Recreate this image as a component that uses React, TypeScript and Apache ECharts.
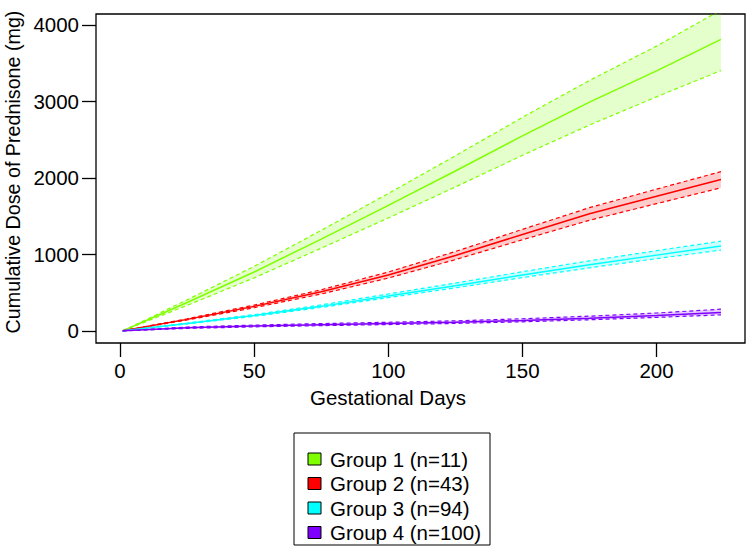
import React, { useEffect, useRef } from "react";
import * as echarts from "echarts";

const DAYS = [1, 25, 50, 75, 100, 125, 150, 175, 200, 224];

const GROUP_NAMES = ["Group 1 (n=11)", "Group 2 (n=43)", "Group 3 (n=94)", "Group 4 (n=100)"];
const GROUP_COLORS = ["#7FFF00", "#FF0000", "#00FFFF", "#7F00FF"];
const BAND_COLORS = ["rgba(127,255,0,0.2)", "rgba(255,0,0,0.2)", "rgba(0,255,255,0.2)", "rgba(127,0,255,0.2)"];

const G1_MEAN = [0, 370, 770, 1200, 1640, 2090, 2550, 2990, 3400, 3812];
const G1_UPPER = [0, 405, 843, 1314, 1796, 2289, 2792, 3274, 3723, 4195];
const G1_LOWER = [0, 333, 693, 1080, 1476, 1881, 2295, 2691, 3060, 3403];

const G2_MEAN = [0, 150, 320, 510, 730, 985, 1260, 1530, 1760, 1978];
const G2_UPPER = [0, 158, 337, 537, 769, 1037, 1327, 1611, 1853, 2082];
const G2_LOWER = [0, 142, 302, 482, 690, 931, 1191, 1446, 1663, 1870];

const G3_MEAN = [0, 95, 200, 320, 455, 590, 730, 865, 990, 1108];
const G3_UPPER = [0, 101, 212, 339, 482, 625, 773, 916, 1048, 1173];
const G3_LOWER = [0, 90, 190, 305, 434, 562, 696, 824, 944, 1056];

const G4_MEAN = [0, 40, 62, 80, 95, 112, 135, 165, 200, 240];
const G4_UPPER = [0, 50, 75, 95, 112, 131, 158, 192, 233, 283];
const G4_LOWER = [0, 32, 52, 68, 82, 97, 118, 145, 176, 209];

const X_TICKS = [0, 50, 100, 150, 200];
const Y_TICKS = [0, 1000, 2000, 3000, 4000];

const X_TITLE = "Gestational Days";
const Y_TITLE = "Cumulative Dose of Prednisone (mg)";

const FONT = "'Liberation Sans', Arial, sans-serif";

export default function App() {
  const ref = useRef<HTMLDivElement>(null);

  useEffect(() => {
    if (!ref.current) return;
    const chart = echarts.init(ref.current, undefined, { renderer: "svg" });

    const groups = [
      { mean: G1_MEAN, upper: G1_UPPER, lower: G1_LOWER },
      { mean: G2_MEAN, upper: G2_UPPER, lower: G2_LOWER },
      { mean: G3_MEAN, upper: G3_UPPER, lower: G3_LOWER },
      { mean: G4_MEAN, upper: G4_UPPER, lower: G4_LOWER },
    ];

    const series: any[] = [];
    groups.forEach((g, i) => {
      series.push({
        type: "custom",
        name: "band" + i,
        data: DAYS.map((d, j) => [d, g.lower[j], g.upper[j]]),
        encode: { x: 0, y: [1, 2] },
        clip: true,
        silent: true,
        z: 1,
        renderItem: (params: any, api: any) => {
          if (params.dataIndex !== 0) return null;
          const top = DAYS.map((d, j) => api.coord([d, g.upper[j]]));
          const bot = DAYS.map((d, j) => api.coord([d, g.lower[j]])).reverse();
          return {
            type: "polygon",
            shape: { points: top.concat(bot) },
            style: { fill: BAND_COLORS[i], stroke: "none" },
          };
        },
      });
    });
    groups.forEach((g, i) => {
      [g.upper, g.lower].forEach((arr, k) => {
        series.push({
          type: "line",
          name: (k === 0 ? "upper" : "lower") + i,
          data: DAYS.map((d, j) => [d, arr[j]]),
          symbol: "none",
          lineStyle: { color: GROUP_COLORS[i], width: 1.2, type: [4, 3] },
          silent: true,
          z: 2,
        });
      });
      series.push({
        type: "line",
        name: GROUP_NAMES[i],
        data: DAYS.map((d, j) => [d, g.mean[j]]),
        symbol: "none",
        lineStyle: { color: GROUP_COLORS[i], width: 1.5 },
        silent: true,
        z: 3,
      });
    });

    const legendLeft = 294;
    const legendTop = 433;
    const rowY0 = 459;
    const rowStep = 24.5;
    const legendEls: any[] = [
      {
        type: "rect",
        shape: { x: legendLeft, y: legendTop, width: 196, height: 112 },
        style: { fill: "#fff", stroke: "#000", lineWidth: 1 },
      },
    ];
    GROUP_NAMES.forEach((name, i) => {
      const cy = rowY0 + i * rowStep;
      legendEls.push({
        type: "rect",
        shape: { x: 308, y: cy - 6, width: 13, height: 12 },
        style: { fill: GROUP_COLORS[i], stroke: "#000", lineWidth: 1 },
      });
      legendEls.push({
        type: "text",
        x: 330,
        y: cy,
        style: {
          text: name,
          fill: "#000",
          font: `20.5px ${FONT}`,
          textAlign: "left",
          textVerticalAlign: "middle",
        },
      });
    });

    chart.setOption({
      animation: false,
      grid: {
        left: 96,
        top: 14,
        width: 649,
        height: 329,
        show: true,
        borderColor: "#000",
        borderWidth: 1.3,
        backgroundColor: "transparent",
      },
      xAxis: {
        type: "value",
        min: -8.96,
        max: 232.96,
        axisLine: { show: false, onZero: false },
        splitLine: { show: false },
        axisTick: {
          show: true,
          customValues: X_TICKS,
          length: 14,
          lineStyle: { color: "#000", width: 1.3 },
        },
        axisLabel: {
          customValues: X_TICKS,
          margin: 17,
          color: "#000",
          fontSize: 20.5,
          fontFamily: FONT,
          formatter: (v: number) => String(v),
        },
      },
      yAxis: {
        type: "value",
        min: -159,
        max: 4143,
        axisLine: { show: false, onZero: false },
        splitLine: { show: false },
        axisTick: {
          show: true,
          customValues: Y_TICKS,
          length: 14,
          lineStyle: { color: "#000", width: 1.3 },
        },
        axisLabel: {
          customValues: Y_TICKS,
          margin: 17,
          color: "#000",
          fontSize: 20.5,
          fontFamily: FONT,
          formatter: (v: number) => String(v),
        },
      },
      series,
      graphic: [
        {
          type: "text",
          x: 388,
          y: 397,
          style: {
            text: X_TITLE,
            fill: "#000",
            font: `20.5px ${FONT}`,
            textAlign: "center",
            textVerticalAlign: "middle",
          },
        },
        {
          type: "text",
          x: 13,
          y: 172,
          rotation: Math.PI / 2,
          style: {
            text: Y_TITLE,
            fill: "#000",
            font: `19.7px ${FONT}`,
            textAlign: "center",
            textVerticalAlign: "middle",
          },
        },
        ...legendEls,
      ],
    });

    return () => chart.dispose();
  }, []);

  return (
    <div
      ref={ref}
      style={{ position: "absolute", left: 0, top: 0, width: 750, height: 559 }}
    />
  );
}
